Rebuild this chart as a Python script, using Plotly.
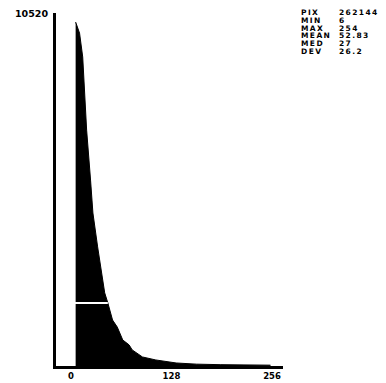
import plotly.graph_objects as go

# Histogram outline (grey level -> pixel count)
levels = [6, 8, 11, 15, 18, 20, 25, 28, 34, 39, 43, 47, 53, 59, 66, 74, 78, 91, 108, 134, 160, 190, 220, 254]
counts = [10250, 10100, 9920, 9210, 7930, 7030, 5540, 4560, 3550, 2770, 2180, 1880, 1370, 1160, 775, 630, 480, 270, 180, 90, 55, 40, 30, 25]

x_ticks = [0, 128, 256]
x_tick_text = ["0", "128", "256"]
y_max = 10520
y_tick_text = ["10520"]

stat_names = ["PIX", "MIN", "MAX", "MEAN", "MED", "DEV"]
stat_values = ["262144", "6", "254", "52.83", "27", "26.2"]

cursor_count = 1880   # white horizontal cursor line across the histogram
cursor_end = 47

FONT = "DejaVu Sans"

# page pixels -> plot-area paper coords (plot area spans x 56..283, y 13..366 on the page)
def px(x):
    return (x - 56) / 227.0

def py(y):
    return (366 - y) / 353.0

fig = go.Figure()
fig.add_trace(go.Scatter(
    x=levels, y=counts, mode="lines", fill="tozeroy",
    line=dict(color="black", width=1), fillcolor="black",
    hoverinfo="skip", showlegend=False,
))

x_min = -19
fig.add_shape(type="line", xref="x", yref="y",
              x0=x_min + 3, x1=cursor_end, y0=cursor_count, y1=cursor_count,
              line=dict(color="white", width=2), layer="above")

SPAN = '<span style="font-size:7.5px;letter-spacing:1.4px"><b>%s</b></span>'
stat_font = dict(family=FONT, size=6, color="black")
fig.add_annotation(xref="paper", yref="paper", x=px(299), y=py(6),
                   text="<br>".join(SPAN % n for n in stat_names),
                   showarrow=False, xanchor="left", yanchor="top", align="left",
                   font=stat_font)
fig.add_annotation(xref="paper", yref="paper", x=px(337), y=py(6),
                   text="<br>".join(SPAN % v for v in stat_values),
                   showarrow=False, xanchor="left", yanchor="top", align="left",
                   font=stat_font)

# y axis top label
fig.add_annotation(xref="paper", yref="y", x=0, y=y_max, xshift=-6,
                   text="<b>" + y_tick_text[0] + "</b>", showarrow=False,
                   xanchor="right", yanchor="middle",
                   font=dict(family=FONT, size=9.5, color="black"))

fig.update_layout(
    width=378, height=375,
    margin=dict(l=48, r=103, t=5, b=17),
    paper_bgcolor="white", plot_bgcolor="white",
    xaxis=dict(range=[x_min, 270], showgrid=False, zeroline=False,
               showline=True, linecolor="black", linewidth=3,
               tickvals=x_ticks, ticktext=["<b>%s</b>" % t for t in x_tick_text],
               ticks="", automargin=False,
               tickfont=dict(family=FONT, size=8.5, color="black")),
    yaxis=dict(range=[0, y_max], showgrid=False, zeroline=False,
               showline=True, linecolor="black", linewidth=3,
               showticklabels=False, ticks="", automargin=False),
)

fig.write_html("out.html")
